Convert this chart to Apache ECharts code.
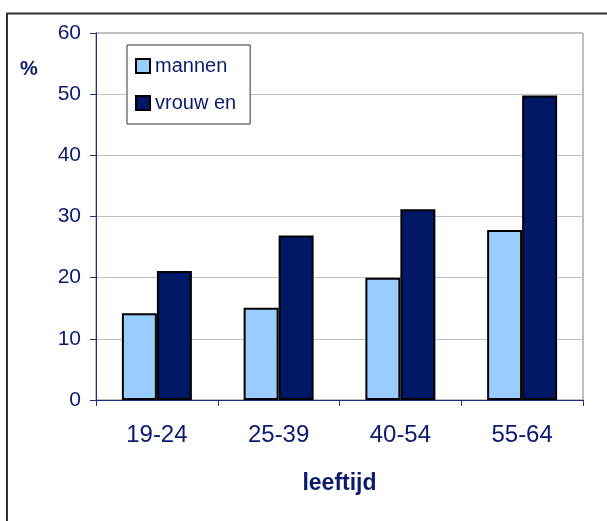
<!DOCTYPE html>
<html>
<head>
<meta charset="utf-8">
<script src="https://cdn.jsdelivr.net/npm/echarts@6/dist/echarts.min.js"></script>
<style>
  html, body { margin: 0; padding: 0; background: #fff; }
  #chart { width: 607px; height: 521px; }
</style>
</head>
<body>
<div id="chart"></div>
<script>
// leeftijdsgroepen en percentages
const categories = ['19-24', '25-39', '40-54', '55-64'];
const mannen = [14.2, 15.1, 20.0, 27.8];
const vrouwen = [21.1, 26.9, 31.2, 49.8];
const yTicks = [0, 10, 20, 30, 40, 50, 60];

const navy = '#0a1a6e';
let chart = echarts.init(document.getElementById('chart'));
let option = {
  animation: false,
  backgroundColor: '#fff',
  textStyle: { fontFamily: 'Liberation Sans, Arial, sans-serif' },
  grid: {
    left: 96,
    right: 24,
    top: 33,
    bottom: 121,
    show: true,
    borderColor: '#808080',
    borderWidth: 1
  },
  legend: {
    orient: 'vertical',
    left: 127,
    top: 45,
    padding: [11, 14, 11, 8],
    itemGap: 17,
    itemWidth: 14,
    itemHeight: 14,
    icon: 'rect',
    borderColor: '#333',
    borderWidth: 1,
    backgroundColor: '#fff',
    textStyle: { color: navy, fontSize: 20, fontFamily: 'Liberation Sans' },
    data: ['mannen', 'vrouw en']
  },
  xAxis: {
    type: 'category',
    data: categories,
    name: 'leeftijd',
    nameLocation: 'middle',
    nameGap: 72,
    nameTextStyle: { color: navy, fontSize: 23, fontWeight: 'bold', fontFamily: 'Liberation Sans' },
    axisLine: { lineStyle: { color: '#1f2f80', width: 1 } },
    axisTick: { show: true, length: 6, lineStyle: { color: '#1f2f80' } },
    axisLabel: { color: navy, fontSize: 24, margin: 23, fontFamily: 'Liberation Sans' }
  },
  yAxis: {
    type: 'value',
    min: 0,
    max: 60,
    interval: 10,
    axisLine: { show: true, lineStyle: { color: '#1f2f80', width: 1 } },
    axisTick: { show: true, length: 6, lineStyle: { color: '#1f2f80' } },
    axisLabel: {
      color: navy, fontSize: 21, margin: 15, fontFamily: 'Liberation Sans',
      formatter: v => (yTicks.indexOf(v) >= 0 ? String(v) : '')
    },
    splitLine: { show: true, lineStyle: { color: '#c0c0c0', width: 1 } }
  },
  series: [
    {
      name: 'mannen',
      type: 'bar',
      data: mannen,
      barWidth: 35,
      barGap: '0%',
      itemStyle: { color: '#99ccff', borderColor: '#000', borderWidth: 2 }
    },
    {
      name: 'vrouw en',
      type: 'bar',
      data: vrouwen,
      barWidth: 35,
      barGap: '0%',
      itemStyle: { color: '#001866', borderColor: '#000', borderWidth: 2 }
    }
  ],
  graphic: [
    {
      type: 'rect',
      silent: true,
      z: -1,
      shape: { x: 7, y: 13.5, width: 700, height: 600 },
      style: { fill: 'none', stroke: '#333', lineWidth: 2 }
    },
    {
      type: 'text',
      left: 20,
      top: 59,
      style: { text: '%', fill: navy, fontSize: 20, fontWeight: 'bold', fontFamily: 'Liberation Sans' }
    }
  ]
};
chart.setOption(option);
</script>
</body>
</html>
